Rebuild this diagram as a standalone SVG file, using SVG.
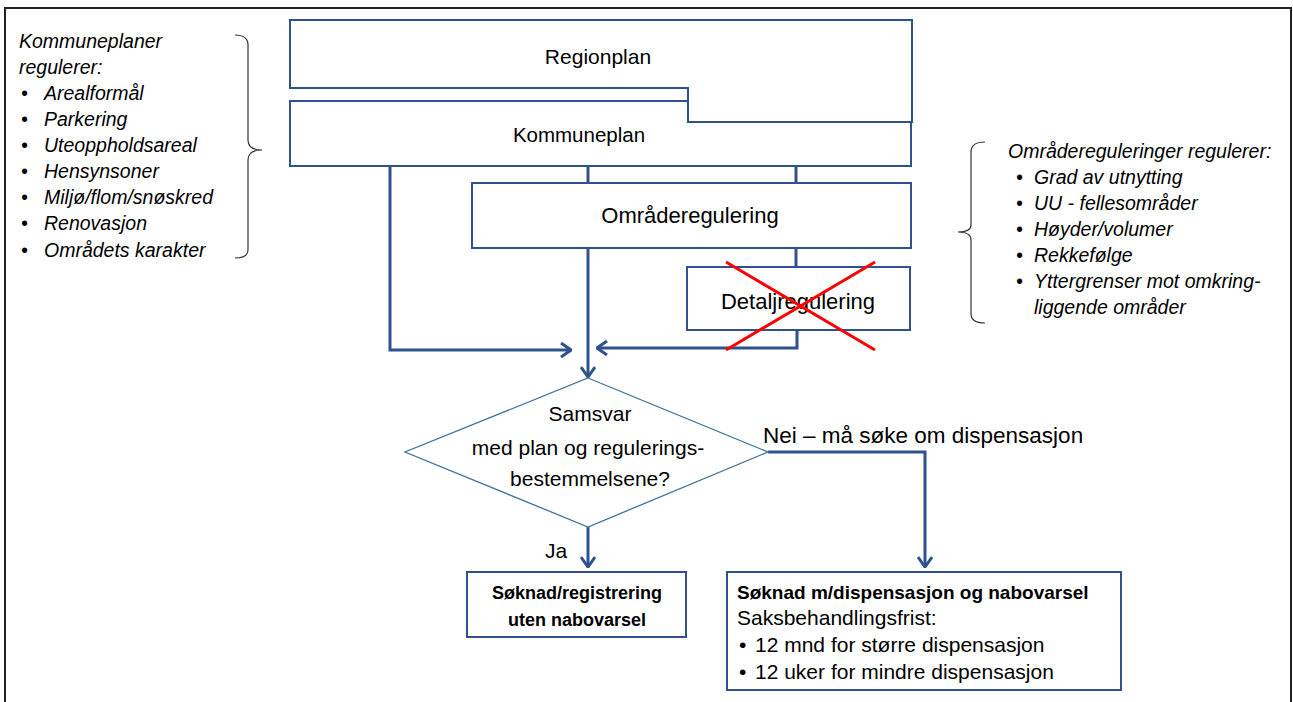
<svg xmlns="http://www.w3.org/2000/svg" width="1293" height="702" viewBox="0 0 1293 702">
<style>
.box{fill:#fff;stroke:#2F528F;stroke-width:2}
.dia{fill:#fff;stroke:#41719C;stroke-width:1.3}
.con{fill:none;stroke:#2F528F;stroke-width:3}
.t{font-family:"Liberation Sans",Arial,sans-serif;font-size:20.5px;fill:#000}
.c{text-anchor:middle}
.d{font-size:21px}
.L{font-size:22px}
.b{font-weight:bold;font-size:18px}
.bb{font-weight:bold;font-size:19px}
.i{font-style:italic;font-size:19.5px}
.s{font-size:21px}
.br{fill:none;stroke:#333;stroke-width:1.2}
</style>
<defs>
<marker id="ah" viewBox="0 0 12 16" refX="11" refY="8" markerWidth="12" markerHeight="16" markerUnits="userSpaceOnUse" orient="auto">
<path d="M1,1 L11,8 L1,15" fill="none" stroke="#2F528F" stroke-width="3"/>
</marker>
</defs>
<rect width="1293" height="702" fill="#fff"/>
<path d="M5,702 V8 H1291 V702" fill="none" stroke="#222" stroke-width="2"/>

<g id="connectors">
<path class="con" d="M390,166 V350 H571" marker-end="url(#ah)"/>
<path class="con" d="M588,166 V183"/>
<path class="con" d="M796,166 V183"/>
<path class="con" d="M588,248 V377" marker-end="url(#ah)"/>
<path class="con" d="M796,248 V267"/>
<path class="con" d="M797,330 V348 H597" marker-end="url(#ah)"/>
<path class="con" d="M588,527 V567" marker-end="url(#ah)"/>
<path class="con" d="M768,452 H925 V567" marker-end="url(#ah)"/>
</g>

<g id="regionplan">
<path class="box" d="M290,20 H912 V122 H688 V88 H290 Z"/>
<text class="t c d" x="598" y="64">Regionplan</text>
</g>
<g id="kommuneplan">
<path class="box" d="M290,101 H688 V122 H911 V166 H290 Z"/>
<text class="t c" x="579" y="142">Kommuneplan</text>
</g>
<g id="omraderegulering">
<rect class="box" x="472" y="183" width="439" height="65"/>
<text class="t c L" x="690" y="223">Områderegulering</text>
</g>
<g id="detaljregulering">
<rect class="box" x="687" y="267" width="223" height="63"/>
<text class="t c L" x="798" y="309">Detaljregulering</text>
<path d="M726,262 L875,350 M726,350 L875,262" stroke="#FF0000" stroke-width="3" fill="none"/>
</g>

<g id="decision">
<path class="dia" d="M588,378 L768,452 L588,527 L405,452 Z"/>
<text class="t c d" x="590" y="421">Samsvar</text>
<text class="t c d" x="588" y="455">med plan og regulerings-</text>
<text class="t c d" x="590" y="486">bestemmelsene?</text>
</g>
<g id="label-nei"><text class="t" x="763" y="443" style="font-size:22.5px">Nei – må søke om dispensasjon</text></g>
<g id="label-ja"><text class="t d" x="545" y="558">Ja</text></g>

<g id="soknad-uten">
<rect class="box" x="467" y="572" width="219" height="65" stroke-width="1.5"/>
<text class="t c b" x="577" y="599">Søknad/registrering</text>
<text class="t c b" x="577" y="626">uten nabovarsel</text>
</g>
<g id="soknad-disp">
<rect class="box" x="727" y="572" width="394" height="118" stroke-width="1.5"/>
<text class="t bb" x="737" y="599">Søknad m/dispensasjon og nabovarsel</text>
<text class="t s" x="737" y="625">Saksbehandlingsfrist:</text>
<text class="t s" x="739" y="652">•</text>
<text class="t s" x="755" y="652">12 mnd for større dispensasjon</text>
<text class="t s" x="739" y="679">•</text>
<text class="t s" x="755" y="679">12 uker for mindre dispensasjon</text>
</g>

<g id="kommuneplaner-note">
<path class="br" d="M235,35 Q248,35 248,45 V140 Q248,150 262,150 Q248,150 248,160 V250 Q248,258 235,258"/>
<text class="t i" x="19" y="48">Kommuneplaner</text>
<text class="t i" x="19" y="74">regulerer:</text>
<text class="t i" x="21" y="100">•</text><text class="t i" x="44" y="100">Arealformål</text>
<text class="t i" x="21" y="126">•</text><text class="t i" x="44" y="126">Parkering</text>
<text class="t i" x="21" y="152">•</text><text class="t i" x="44" y="152">Uteoppholdsareal</text>
<text class="t i" x="21" y="178">•</text><text class="t i" x="44" y="178">Hensynsoner</text>
<text class="t i" x="21" y="204">•</text><text class="t i" x="44" y="204">Miljø/flom/snøskred</text>
<text class="t i" x="21" y="230">•</text><text class="t i" x="44" y="230">Renovasjon</text>
<text class="t i" x="21" y="257">•</text><text class="t i" x="44" y="257">Områdets karakter</text>
</g>

<g id="omrade-note">
<path class="br" d="M985,142 Q971,142 971,152 V225 Q971,232 958,232 Q971,232 971,240 V314 Q971,323 985,323"/>
<text class="t i" x="1008" y="158">Områdereguleringer regulerer:</text>
<text class="t i" x="1016" y="184">•</text><text class="t i" x="1034" y="184">Grad av utnytting</text>
<text class="t i" x="1016" y="210">•</text><text class="t i" x="1034" y="210">UU - fellesområder</text>
<text class="t i" x="1016" y="236">•</text><text class="t i" x="1034" y="236">Høyder/volumer</text>
<text class="t i" x="1016" y="262">•</text><text class="t i" x="1034" y="262">Rekkefølge</text>
<text class="t i" x="1016" y="288">•</text><text class="t i" x="1034" y="288">Yttergrenser mot omkring-</text>
<text class="t i" x="1034" y="314">liggende områder</text>
</g>
</svg>
